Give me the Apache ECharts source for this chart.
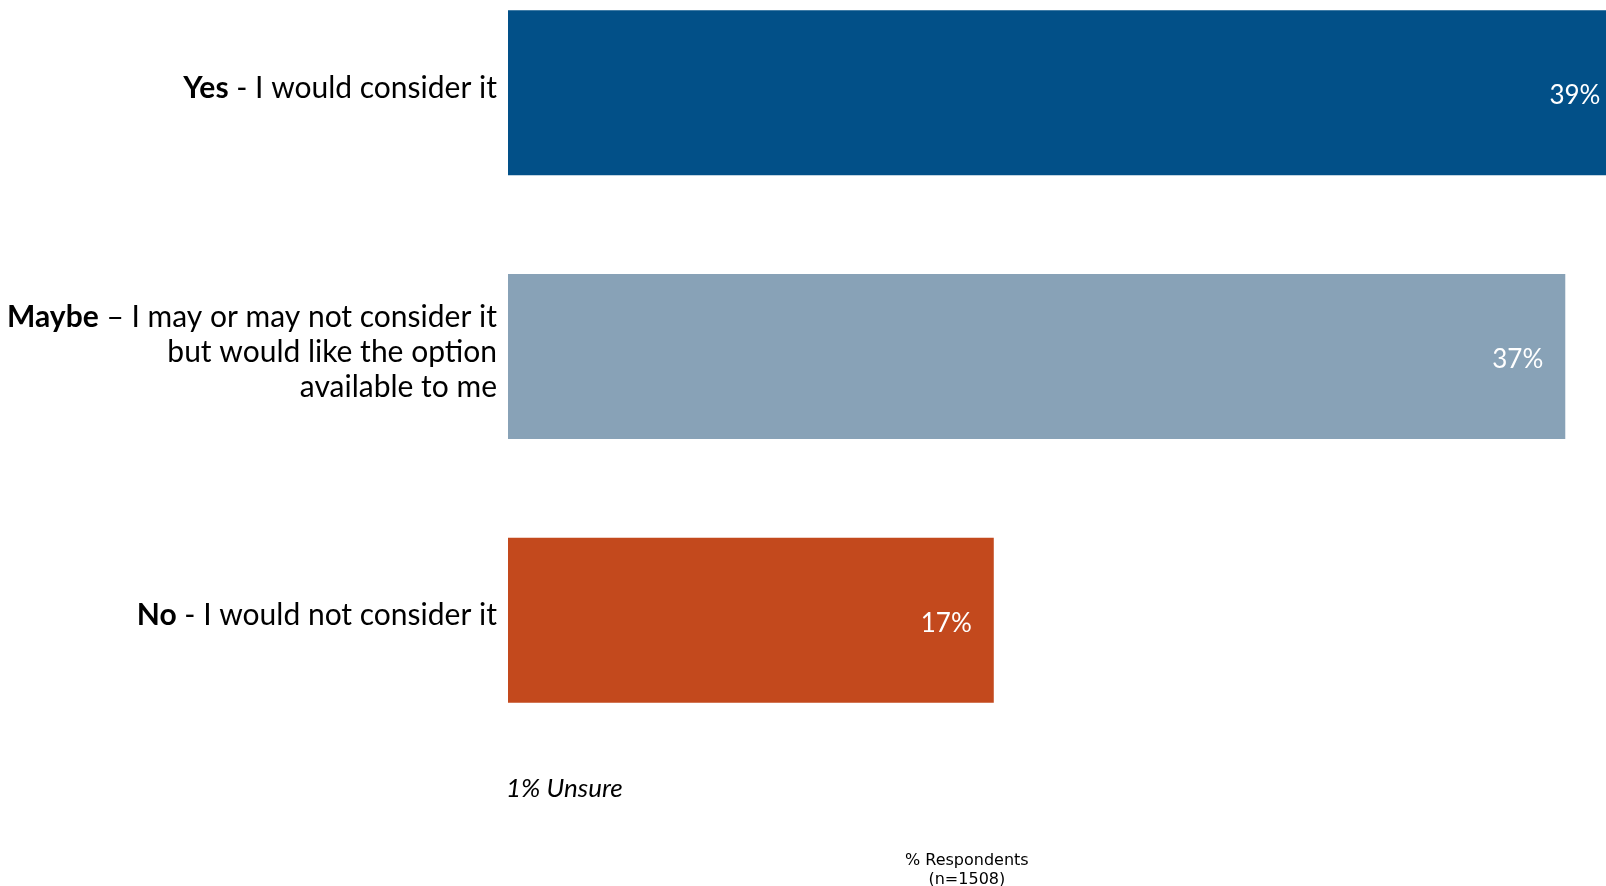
<!DOCTYPE html>
<html>
<head>
<meta charset="utf-8">
<script src="https://cdn.jsdelivr.net/npm/echarts@6/dist/echarts.min.js"></script>
<style>html,body{margin:0;padding:0;background:#fff}#c{width:1606px;height:886px}</style>
</head>
<body>
<div id="c"></div>
<script>
var categories = ['Yes', 'Maybe', 'No'];
var descriptions = [' - I would consider it', ' \u2013 I may or may not consider it\nbut would like the option\navailable to me', ' - I would not consider it'];
var values = [39, 37, 17];
var barColors = ['#025088', '#88A2B7', '#C3491D'];
var noteText = '1% Unsure';
var axisTitle = '% Respondents\n(n=1508)';

var chart = echarts.init(document.getElementById('c'));
var labelFont = 'Lato, "Open Sans", sans-serif';
chart.setOption({
  animation: false,
  grid: {left: 508, top: -39, width: 1143, height: 791, containLabel: false, outerBoundsMode: 'none'},
  xAxis: {type: 'value', min: 0, max: 40, show: false},
  yAxis: {
    type: 'category', inverse: true, data: categories,
    axisLine: {show: false}, axisTick: {show: false},
    axisLabel: {
      margin: 11,
      align: 'right',
      padding: [0, 0, 9, 0],
      formatter: function (v, i) {
        var d = descriptions[i];
        var lines = d.split('\n');
        var s = '{b|' + v + '}{n|' + lines[0] + '}';
        for (var k = 1; k < lines.length; k++) s += '\n{n|' + lines[k] + '}';
        return s;
      },
      rich: {
        b: {fontFamily: labelFont, fontWeight: 'bold', fontSize: 30, color: '#000', lineHeight: 35},
        n: {fontFamily: labelFont, fontSize: 30, color: '#000', lineHeight: 35}
      }
    }
  },
  series: [{
    type: 'bar',
    barWidth: 165,
    data: values.map(function (v, i) { return {value: v, itemStyle: {color: barColors[i]}}; }),
    label: {
      show: true, position: 'insideRight', distance: 22, offset: [0, 3],
      formatter: '{c}%', color: '#fff', fontFamily: labelFont, fontSize: 26
    }
  }],
  graphic: [
    {type: 'text', left: 506, top: 776, style: {text: noteText, font: 'italic 26px Lato, sans-serif', fill: '#000'}},
    {type: 'text', left: 905, top: 851, style: {text: axisTitle, font: '16px "DejaVu Sans", Verdana, sans-serif', fill: '#000', textAlign: 'center', lineHeight: 19}}
  ]
});
</script>
</body>
</html>
